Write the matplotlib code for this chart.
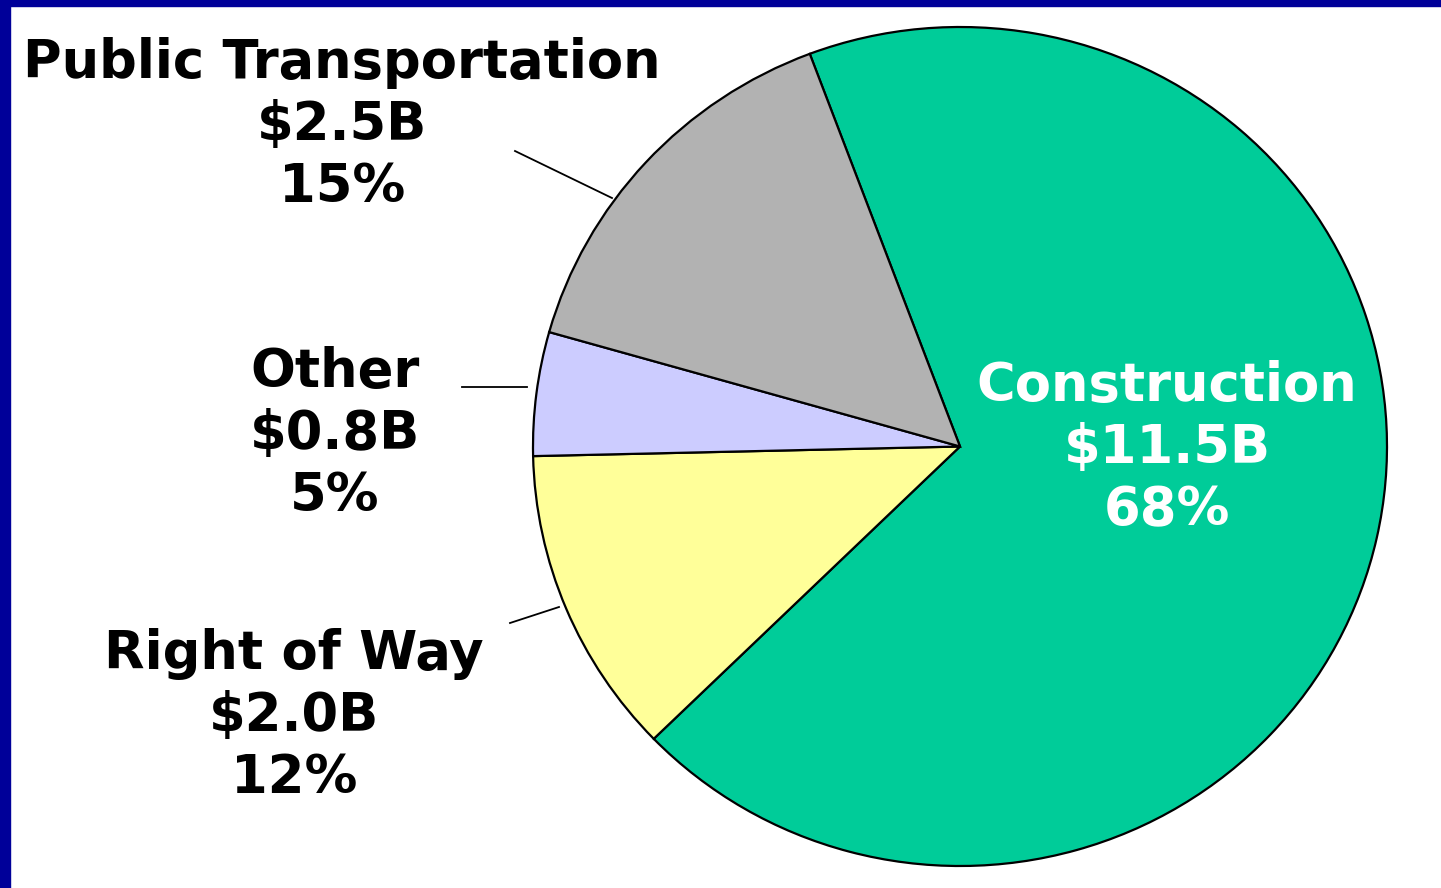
import matplotlib.pyplot as plt
from matplotlib.patches import Rectangle

# Data
labels = ['Construction', 'Right of Way', 'Other', 'Public Transportation']
values = [11.5, 2.0, 0.8, 2.5]   # $ billions
colors = ['#00CC99', '#FFFF99', '#CCCCFF', '#B2B2B2']

W, H = 1441, 888
# pie in the reference is a little wider than tall
sy = 427 / 419.5

fig = plt.figure(figsize=(W / 100, H / 100), dpi=100)
ax = fig.add_axes([0, 0, 1, 1])

wedges, _ = ax.pie(values, colors=colors, startangle=110.6, counterclock=False,
                   center=(960, (H - 446.5) * sy), radius=427,
                   wedgeprops=dict(edgecolor='black', linewidth=1.6))
ax.set_aspect('auto')
ax.set_xlim(0, W)
ax.set_ylim(0, H * sy)
ax.axis('off')


def py(y):
    # pixel row (from top) -> data y
    return (H - y) * sy


total = sum(values)
font = dict(family='DejaVu Sans', fontweight='bold', fontsize=38,
            ha='center', va='center', linespacing=1.24)

label_pos = [(1167, 448), (294, 716), (335, 434), (342, 125)]
label_col = ['white', 'black', 'black', 'black']
for lab, v, (x, y), c in zip(labels, values, label_pos, label_col):
    txt = f"{lab}\n${v:.1f}B\n{v / total * 100:.0f}%"
    ax.text(x, py(y), txt, color=c, **font)

# leader lines
leaders = [((515, 151), (612, 198)), ((462, 387), (527, 387)), ((510, 623), (559, 607))]
for (x0, y0), (x1, y1) in leaders:
    ax.plot([x0, x1], [py(y0), py(y1)], color='black', linewidth=1.3)

# blue border top and left
fig.patches.append(Rectangle((0, 1 - 6 / H), 1, 6 / H, transform=fig.transFigure,
                             color='#000099', zorder=10))
fig.patches.append(Rectangle((0, 0), 10 / W, 1, transform=fig.transFigure,
                             color='#000099', zorder=10))

fig.savefig('out.png', dpi=100)
